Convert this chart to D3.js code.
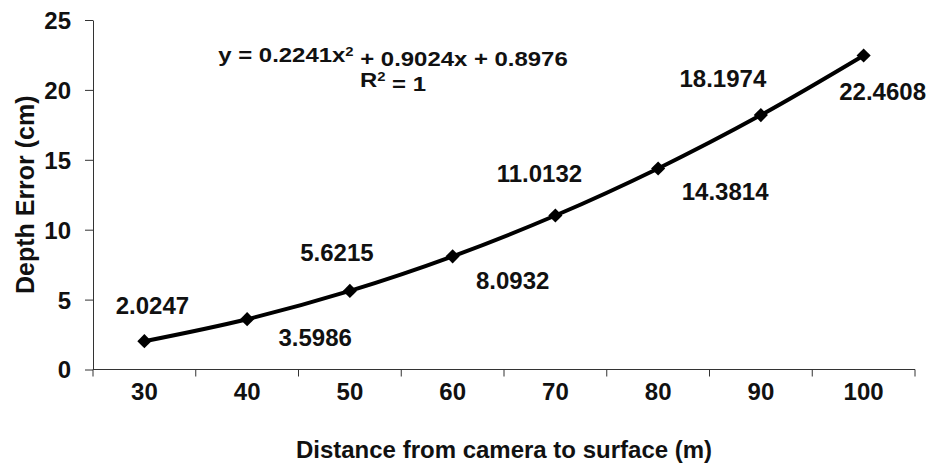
<!DOCTYPE html>
<html>
  <head>
    <meta charset="utf-8" />
    <title>Depth error vs distance</title>
    <style>
      body { margin: 0; background: #fff; }
      svg text { font-family: "Liberation Sans", Arial, sans-serif; font-weight: bold; fill: #111; }
    </style>
  </head>
  <body>
    <svg width="930" height="466"></svg>

    <script src="https://d3js.org/d3.v7.min.js"></script>
    <script>
      // data
      const distances = [30, 40, 50, 60, 70, 80, 90, 100];
      const depthErrors = [2.0247, 3.5986, 5.6215, 8.0932, 11.0132, 14.3814, 18.1974, 22.4608];
      const yTicks = [0, 5, 10, 15, 20, 25];
      const equation = ["y = 0.2241x", "2", " + 0.9024x + 0.8976"];

      // where each value label sits relative to its marker (px)
      const labelOffsets = [[8, -36], [68, 18], [-13, -38], [60, 24], [-16, -42], [67, 23], [-38, -37], [19, 36]];

      const svg = d3.select("svg"),
        width = +svg.attr("width"),
        height = +svg.attr("height"),
        margin = { top: 20, right: 15, bottom: 96.5, left: 93 };

      const x = d3.scaleBand()
        .domain(distances)
        .range([margin.left, width - margin.right]);

      const y = d3.scaleLinear()
        .domain([0, 25])
        .range([height - margin.bottom, margin.top]);

      const cx = d => x(d) + x.bandwidth() / 2;

      // y axis
      const yAxis = svg.append("g")
        .attr("transform", `translate(${margin.left},0)`)
        .call(d3.axisLeft(y).tickValues(yTicks).tickSize(8).tickSizeOuter(0).tickPadding(14));
      yAxis.select(".domain").attr("stroke", "#333");
      yAxis.selectAll(".tick line").attr("stroke", "#333");
      yAxis.selectAll(".tick text").style("font-size", "24px").attr("dy", "0.35em");

      // x axis: labels centred in categories, tick marks on category boundaries
      const xAxis = svg.append("g")
        .attr("transform", `translate(0,${y(0)})`)
        .call(d3.axisBottom(x).tickSize(0).tickPadding(22));
      xAxis.select(".domain").remove();
      xAxis.selectAll(".tick text").style("font-size", "24px").attr("dy", "0.35em");
      xAxis.append("line")
        .attr("x1", x.range()[0]).attr("x2", x.range()[1])
        .attr("stroke", "#333");
      xAxis.selectAll(".bound")
        .data(distances.map(d => x(d)).concat([x.range()[1]]))
        .enter().append("line")
        .attr("class", "bound")
        .attr("x1", d => d).attr("x2", d => d)
        .attr("y1", 0).attr("y2", 7)
        .attr("stroke", "#333");

      // axis titles
      svg.append("text")
        .attr("x", (x.range()[0] + x.range()[1]) / 2)
        .attr("y", 450)
        .attr("dy", "0.35em")
        .attr("text-anchor", "middle")
        .style("font-size", "24px")
        .text("Distance from camera to surface (m)");

      svg.append("text")
        .attr("transform", `translate(25,${(y(0) + y(25)) / 2}) rotate(-90)`)
        .attr("dy", "0.35em")
        .attr("text-anchor", "middle")
        .style("font-size", "25px")
        .text("Depth Error (cm)");

      // smoothed line
      const line = d3.line()
        .x((d, i) => cx(distances[i]))
        .y(d => y(d))
        .curve(d3.curveCatmullRom.alpha(0.5));

      svg.append("path")
        .datum(depthErrors)
        .attr("fill", "none")
        .attr("stroke", "#000")
        .attr("stroke-width", 4)
        .attr("stroke-linejoin", "round")
        .attr("d", line);

      // diamond markers
      svg.selectAll(".marker")
        .data(depthErrors)
        .enter().append("path")
        .attr("class", "marker")
        .attr("d", d3.symbol(d3.symbolSquare, 100))
        .attr("transform", (d, i) => `translate(${cx(distances[i])},${y(d)}) rotate(45)`)
        .attr("fill", "#000");

      // value labels
      svg.selectAll(".val")
        .data(depthErrors)
        .enter().append("text")
        .attr("class", "val")
        .attr("x", (d, i) => cx(distances[i]) + labelOffsets[i][0])
        .attr("y", (d, i) => y(d) + labelOffsets[i][1])
        .attr("dy", "0.35em")
        .attr("text-anchor", "middle")
        .style("font-size", "24px")
        .text(d => d3.format(".4f")(d));

      // trendline equation
      const eq = svg.append("g").attr("transform", "translate(393,0) scale(1.14,1)");
      const t1 = eq.append("text")
        .attr("y", 55)
        .attr("dy", "0.35em")
        .attr("text-anchor", "middle")
        .style("font-size", "21px");
      t1.append("tspan").text(equation[0]);
      t1.append("tspan").attr("dy", "-0.45em").style("font-size", "13px").text(equation[1]);
      t1.append("tspan").attr("dy", "0.45em").text(equation[2]);

      const t2 = eq.append("text")
        .attr("y", 80)
        .attr("dy", "0.35em")
        .attr("text-anchor", "middle")
        .style("font-size", "21px");
      t2.append("tspan").text("R");
      t2.append("tspan").attr("dy", "-0.45em").style("font-size", "13px").text("2");
      t2.append("tspan").attr("dy", "0.45em").text(" = 1");
    </script>
  </body>
</html>
